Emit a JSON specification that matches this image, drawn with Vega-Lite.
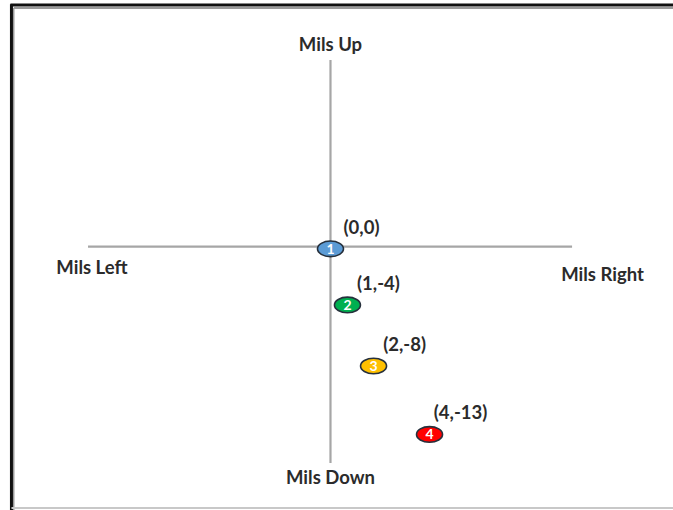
{
  "$schema": "https://vega.github.io/schema/vega-lite/v6.json",
  "width": 673,
  "height": 510,
  "autosize": "none",
  "padding": 0,
  "background": "white",
  "config": {"view": {"stroke": null}, "axis": {"disable": true}},
  "datasets": {
    "points": [
      {"n": "1", "label": "(0,0)", "right": 0, "up": -0.15},
      {"n": "2", "label": "(1,-4)", "right": 1.17, "up": -4.02},
      {"n": "3", "label": "(2,-8)", "right": 2.97, "up": -8.23},
      {"n": "4", "label": "(4,-13)", "right": 6.83, "up": -12.95}
    ],
    "directions": [
      {"text": "Mils Up", "right": 0, "up": 13.91},
      {"text": "Mils Down", "right": 0, "up": -15.95},
      {"text": "Mils Left", "right": -16.45, "up": -1.5},
      {"text": "Mils Right", "right": 18.76, "up": -1.95}
    ],
    "one": [{}]
  },
  "layer": [
    {
      "data": {"name": "one"},
      "mark": {"type": "rule", "color": "#A6A6A6", "strokeWidth": 2.2},
      "encoding": {
        "x": {"datum": -16.72, "type": "quantitative", "scale": {"domain": [-22.79, 23.62], "nice": false, "zero": false}},
        "x2": {"datum": 16.66},
        "y": {"datum": 0, "type": "quantitative", "scale": {"domain": [-18.16, 17.01], "nice": false, "zero": false}}
      }
    },
    {
      "data": {"name": "one"},
      "mark": {"type": "rule", "color": "#A6A6A6", "strokeWidth": 2.2},
      "encoding": {
        "x": {"datum": 0, "type": "quantitative", "scale": {"domain": [-22.79, 23.62], "nice": false, "zero": false}},
        "y": {"datum": 12.88, "type": "quantitative", "scale": {"domain": [-18.16, 17.01], "nice": false, "zero": false}},
        "y2": {"datum": -14.92}
      }
    },
    {
      "data": {"name": "one"},
      "mark": {"type": "rule", "color": "#9A9A9A", "strokeWidth": 2},
      "encoding": {
        "x": {"datum": -21.84, "type": "quantitative", "scale": {"domain": [-22.79, 23.62], "nice": false, "zero": false}},
        "x2": {"datum": 23.62},
        "y": {"datum": 16.45, "type": "quantitative", "scale": {"domain": [-18.16, 17.01], "nice": false, "zero": false}}
      }
    },
    {
      "data": {"name": "one"},
      "mark": {"type": "rule", "color": "#9A9A9A", "strokeWidth": 2},
      "encoding": {
        "x": {"datum": -21.86, "type": "quantitative", "scale": {"domain": [-22.79, 23.62], "nice": false, "zero": false}},
        "y": {"datum": 16.45, "type": "quantitative", "scale": {"domain": [-18.16, 17.01], "nice": false, "zero": false}},
        "y2": {"datum": -18.16}
      }
    },
    {
      "data": {"name": "one"},
      "mark": {"type": "rule", "color": "#111111", "strokeWidth": 3},
      "encoding": {
        "x": {"datum": -22.07, "type": "quantitative", "scale": {"domain": [-22.79, 23.62], "nice": false, "zero": false}},
        "x2": {"datum": 23.62},
        "y": {"datum": 16.66, "type": "quantitative", "scale": {"domain": [-18.16, 17.01], "nice": false, "zero": false}}
      }
    },
    {
      "data": {"name": "one"},
      "mark": {"type": "rule", "color": "#111111", "strokeWidth": 3},
      "encoding": {
        "x": {"datum": -22.0, "type": "quantitative", "scale": {"domain": [-22.79, 23.62], "nice": false, "zero": false}},
        "y": {"datum": 16.72, "type": "quantitative", "scale": {"domain": [-18.16, 17.01], "nice": false, "zero": false}},
        "y2": {"datum": -18.16}
      }
    },
    {
      "data": {"name": "one"},
      "mark": {"type": "rule", "color": "#C8C8C8", "strokeWidth": 2},
      "encoding": {
        "x": {"datum": -22.0, "type": "quantitative", "scale": {"domain": [-22.79, 23.62], "nice": false, "zero": false}},
        "x2": {"datum": 23.62},
        "y": {"datum": -18.02, "type": "quantitative", "scale": {"domain": [-18.16, 17.01], "nice": false, "zero": false}}
      }
    },
    {
      "data": {"name": "directions"},
      "mark": {"type": "text", "font": "Lato", "fontSize": 18.5, "fontWeight": "bold", "color": "#2B2B2B", "align": "center", "baseline": "middle"},
      "encoding": {
        "x": {"field": "right", "type": "quantitative", "scale": {"domain": [-22.79, 23.62], "nice": false, "zero": false}},
        "y": {"field": "up", "type": "quantitative", "scale": {"domain": [-18.16, 17.01], "nice": false, "zero": false}},
        "text": {"field": "text"}
      }
    },
    {
      "data": {"name": "points"},
      "mark": {"type": "point", "filled": true, "opacity": 1, "shape": "M -1 0 A 1 0.6 0 1 0 1 0 A 1 0.6 0 1 0 -1 0 Z", "size": 676, "stroke": "#26303C", "strokeWidth": 1.6},
      "encoding": {
        "x": {"field": "right", "type": "quantitative", "scale": {"domain": [-22.79, 23.62], "nice": false, "zero": false}},
        "y": {"field": "up", "type": "quantitative", "scale": {"domain": [-18.16, 17.01], "nice": false, "zero": false}},
        "fill": {"field": "n", "type": "nominal", "legend": null, "scale": {"domain": ["1", "2", "3", "4"], "range": ["#5B9BD5", "#00B050", "#FFC000", "#FF0000"]}}
      }
    },
    {
      "data": {"name": "points"},
      "mark": {"type": "text", "font": "Lato", "fontSize": 14, "fontWeight": "bold", "color": "white", "align": "center", "baseline": "middle", "dy": 1},
      "encoding": {
        "x": {"field": "right", "type": "quantitative", "scale": {"domain": [-22.79, 23.62], "nice": false, "zero": false}},
        "y": {"field": "up", "type": "quantitative", "scale": {"domain": [-18.16, 17.01], "nice": false, "zero": false}},
        "text": {"field": "n"}
      }
    },
    {
      "data": {"name": "points"},
      "mark": {"type": "text", "font": "Lato", "fontSize": 18.5, "fontWeight": "bold", "color": "#2B2B2B", "align": "center", "baseline": "middle", "dx": 31, "dy": -21},
      "encoding": {
        "x": {"field": "right", "type": "quantitative", "scale": {"domain": [-22.79, 23.62], "nice": false, "zero": false}},
        "y": {"field": "up", "type": "quantitative", "scale": {"domain": [-18.16, 17.01], "nice": false, "zero": false}},
        "text": {"field": "label"}
      }
    }
  ]
}
